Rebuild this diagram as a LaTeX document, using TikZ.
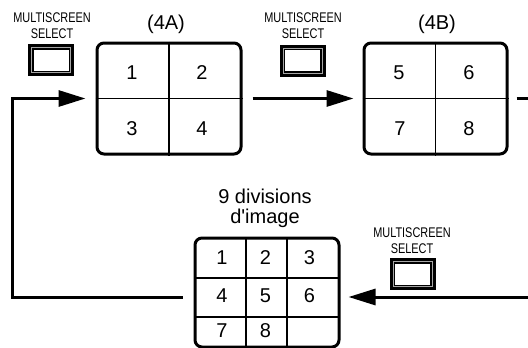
\documentclass[tikz,border=0pt]{standalone}
\usepackage{fontspec}
\setmainfont{Liberation Sans}
\newfontfamily\condensed[FakeStretch=0.78]{Liberation Sans}
\usetikzlibrary{arrows.meta}

\tikzset{
  screen/.style={draw, line width=3pt, rounded corners=7pt, inner sep=0pt},
  divider/.style={line width=1.2pt},
  digit/.style={font=\fontsize{20}{22}\selectfont, inner sep=0pt},
  caption/.style={font=\fontsize{20}{20}\selectfont, align=center, inner sep=0pt},
  keylabel/.style={font=\condensed\fontsize{14}{16}\selectfont, align=center, inner sep=0pt},
  flow/.style={line width=3pt, -{Triangle[length=27pt,width=16pt]}},
  selkey/.pic={
    \draw[line width=5.5pt] (-20.25,-13.25) rectangle (20.25,13.25);
    \draw[gray!70, line width=0.8pt] (-19.5,-12.5) rectangle (19.5,12.5);
  }
}

\begin{document}
\begin{tikzpicture}[x=1pt, y=-1pt]

	\useasboundingbox (0,0) rectangle (528,348);

	% Screens
	\node[screen, minimum width=144pt, minimum height=111pt] (quadA) at (169,98.5) {};
	\node[screen, minimum width=143pt, minimum height=111pt] (quadB) at (435.5,98.5) {};
	\node[screen, minimum width=144pt, minimum height=109pt] (nine) at (267,292.5) {};

	% Dividers
	\draw[divider] (quadA.north) -- (quadA.south);
	\draw[divider] (quadA.west) -- (quadA.east);
	\draw[divider] (quadB.north) -- (quadB.south);
	\draw[divider] (quadB.west) -- (quadB.east);
	\draw[divider] (246,238) -- (246,347);
	\draw[divider] (287,238) -- (287,347);
	\draw[divider] (195,278) -- (339,278);
	\draw[divider] (195,317) -- (339,317);

	% Cell numbers
	\node[digit] (a1) at (132,73) {1};
	\node[digit] (a2) at (202,73) {2};
	\node[digit] (a3) at (132,129) {3};
	\node[digit] (a4) at (202,129) {4};
	\node[digit] (b5) at (399,73) {5};
	\node[digit] (b6) at (469,73) {6};
	\node[digit] (b7) at (400,129) {7};
	\node[digit] (b8) at (469,129) {8};
	\node[digit] (n1) at (222,258) {1};
	\node[digit] (n2) at (265.5,258) {2};
	\node[digit] (n3) at (309.5,258) {3};
	\node[digit] (n4) at (222,296) {4};
	\node[digit] (n5) at (265.5,296) {5};
	\node[digit] (n6) at (309.5,296) {6};
	\node[digit] (n7) at (222,331) {7};
	\node[digit] (n8) at (265.5,331) {8};

	% Captions
	\node[caption, anchor=base] (capA) at (166,29) {(4A)};
	\node[caption, anchor=base] (capB) at (437,29) {(4B)};
	\node[caption] (capN) at (265,208) {9 divisions\\d\textquotesingle image};

	% Select keys
	\node[keylabel] (keyA) at (52,26) {MULTISCREEN\\SELECT};
	\node[keylabel] (keyB) at (303,26) {MULTISCREEN\\SELECT};
	\node[keylabel] (keyN) at (412,241) {MULTISCREEN\\SELECT};
	\pic at (51,60) {selkey};
	\pic at (302.5,60.5) {selkey};
	\pic at (412.5,274) {selkey};

	% Connectors
	\coordinate (leftrail) at (12,0);
	\coordinate (rightrail) at (537,0);
	\coordinate (nineL) at ([yshift=-4.5pt]nine.west);
	\coordinate (nineR) at ([yshift=-4.5pt]nine.east);
	\draw[flow, shorten <=10pt, shorten >=9pt] (quadA.east) -- (quadB.west);
	\draw[flow, shorten <=8pt, shorten >=8pt] (quadB.east) -| (rightrail |- nineR) -- (nineR);
	\draw[flow, shorten <=11pt, shorten >=10pt] (nineL) -| (leftrail |- quadA.west) -- (quadA.west);

\end{tikzpicture}
\end{document}
